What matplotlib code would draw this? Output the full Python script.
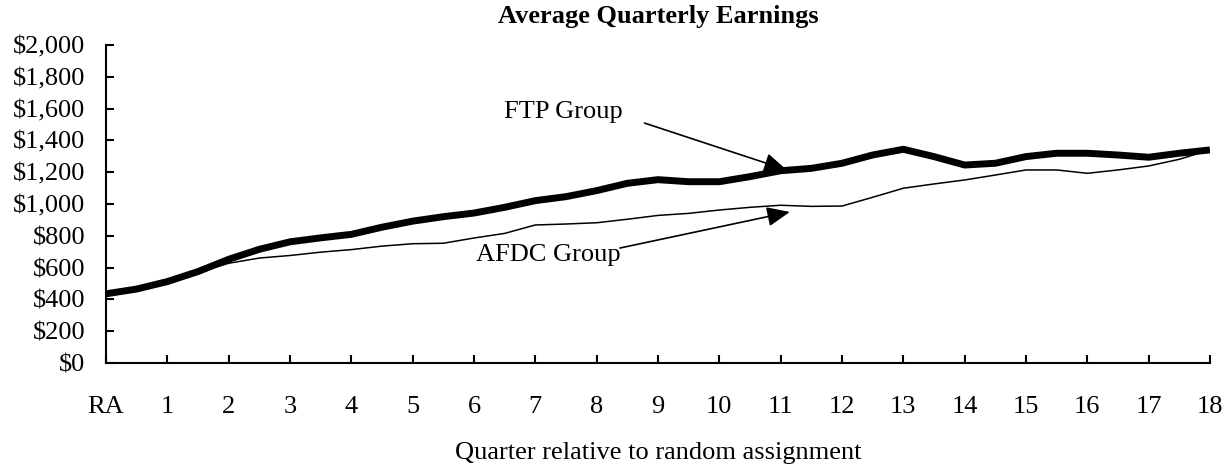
import matplotlib
matplotlib.use("Agg")
import matplotlib.pyplot as plt

# quarter positions (RA = 0), read at half-quarter steps
quarters = [0, 0.5, 1, 1.5, 2, 2.5, 3, 3.5, 4, 4.5, 5, 5.5, 6, 6.5, 7, 7.5, 8, 8.5, 9,
            9.5, 10, 10.5, 11, 11.5, 12, 12.5, 13, 13.5, 14, 14.5, 15, 15.5, 16, 16.5,
            17, 17.5, 18]

ftp_earnings = [435, 465, 512, 575, 652, 715, 762, 787, 809, 854, 892, 920, 943, 979,
                1021, 1046, 1084, 1130, 1153, 1140, 1140, 1172, 1209, 1224, 1256, 1308,
                1344, 1298, 1245, 1256, 1298, 1319, 1319, 1308, 1294, 1319, 1340]

afdc_earnings = [420, 460, 510, 570, 627, 660, 676, 697, 713, 735, 750, 753, 786, 815,
                 868, 874, 882, 904, 928, 941, 962, 979, 992, 985, 987, 1042, 1099, 1126,
                 1151, 1182, 1214, 1214, 1193, 1214, 1239, 1281, 1340]

xtick_pos = list(range(0, 19))
xtick_labels = ["RA"] + [str(i) for i in range(1, 19)]
ytick_pos = list(range(0, 2001, 200))
ytick_labels = ["$" + f"{v:,}" for v in ytick_pos]

plt.rcParams["font.family"] = ["Liberation Serif", "DejaVu Serif"]

fig = plt.figure(figsize=(12.3, 4.7), dpi=100)
ax = fig.add_axes([0.0862, 0.2277, 0.8975, 0.6766])

ax.plot(quarters, afdc_earnings, color="black", linewidth=1.1)
ax.plot(quarters, ftp_earnings, color="black", linewidth=5, solid_capstyle="butt")

ax.set_xlim(0, 18)
ax.set_ylim(0, 2000)
ax.set_xticks(xtick_pos)
ax.set_xticklabels(xtick_labels)
ax.set_yticks(ytick_pos)
ax.set_yticklabels(ytick_labels)

for side in ["top", "right"]:
    ax.spines[side].set_visible(False)
for side in ["left", "bottom"]:
    ax.spines[side].set_linewidth(1.5)

ax.tick_params(axis="both", direction="in", length=6, width=1.5, labelsize=19)
ax.tick_params(axis="x", pad=24)
ax.tick_params(axis="y", pad=15)

ax.set_title("Average Quarterly Earnings", fontsize=19, fontweight="bold", pad=16)
ax.set_xlabel("Quarter relative to random assignment", fontsize=19, labelpad=17)

arrow = dict(arrowstyle="-|>,head_length=0.7,head_width=0.3", color="black",
             lw=1.2, mutation_scale=20, shrinkA=0, shrinkB=0)
ax.text(7.46, 1579, "FTP Group", fontsize=19, ha="center", va="center")
ax.annotate("", xy=(11.1, 1214), xytext=(8.78, 1509), arrowprops=arrow)
ax.text(7.21, 679, "AFDC Group", fontsize=19, ha="center", va="center")
ax.annotate("", xy=(11.15, 950), xytext=(8.38, 723), arrowprops=arrow)

fig.savefig("out.png", dpi=100)
